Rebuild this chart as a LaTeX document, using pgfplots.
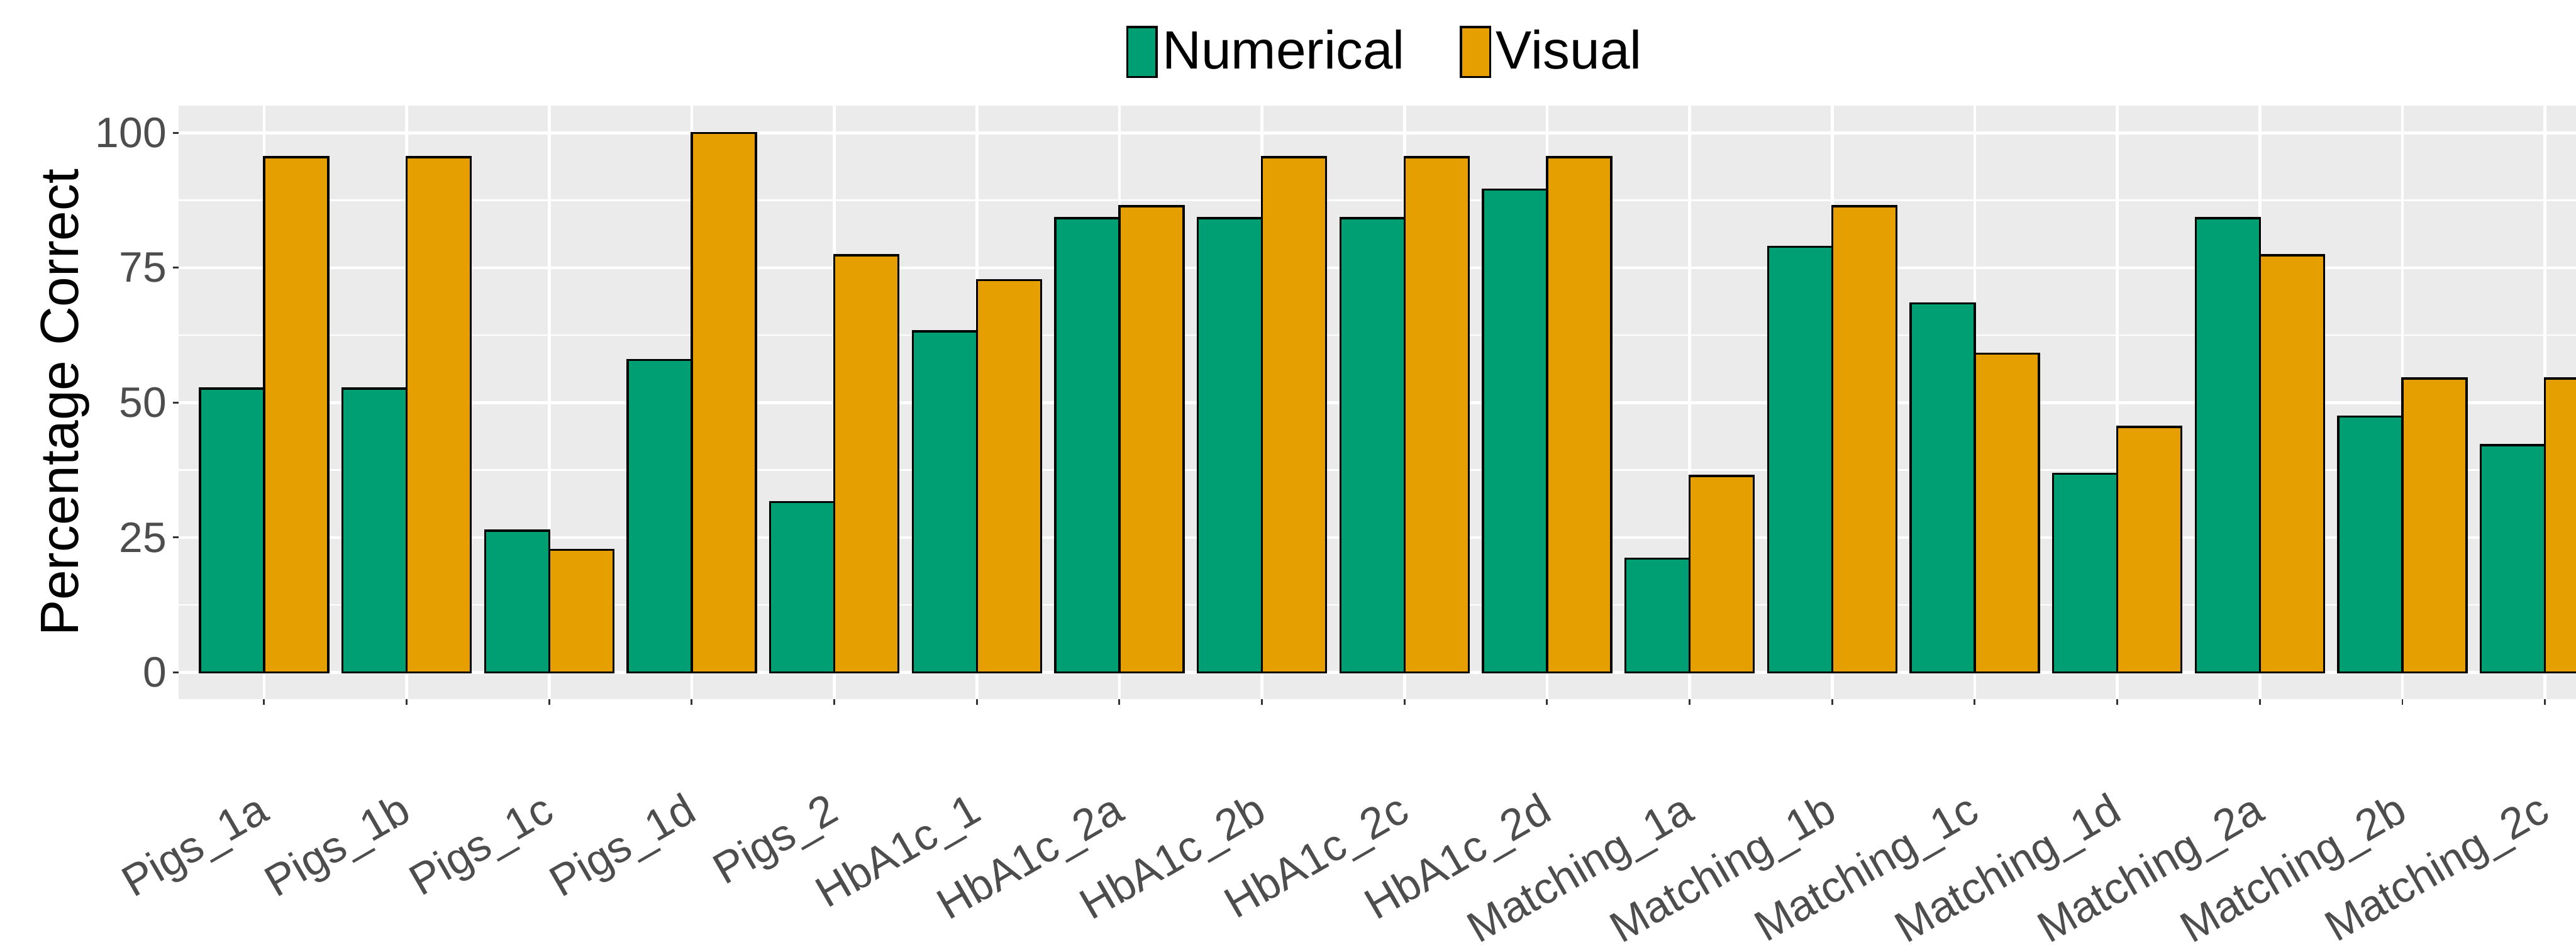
\documentclass[border=0pt]{standalone}
\usepackage{pgfplots}
\pgfplotsset{compat=1.18}
\usepackage{pgfplotstable}
\usepackage{fontspec}
\setmainfont{Liberation Sans}
\definecolor{numc}{HTML}{009E73}
\definecolor{visc}{HTML}{E69F00}
\definecolor{panelbg}{HTML}{EBEBEB}
\definecolor{tickc}{HTML}{333333}
\definecolor{labc}{HTML}{4D4D4D}

\pgfplotstableread{
x N V
1 52.6 95.5
2 52.6 95.5
3 26.3 22.7
4 57.9 100
5 31.6 77.3
6 63.2 72.7
7 84.2 86.4
8 84.2 95.5
9 84.2 95.5
10 89.5 95.5
11 21.1 36.4
12 78.9 86.4
13 68.4 59.1
14 36.8 45.5
15 84.2 77.3
16 47.4 54.5
17 42.1 54.5
}\datatable

\begin{document}
\begin{tikzpicture}
\useasboundingbox (0,0) rectangle (822.2pt,301.6pt);
\begin{axis}[
  at={(57pt,78.3pt)}, anchor=south west,
  scale only axis,
  width=765.3pt, height=189.5pt,
  xmin=0.4, xmax=17.22,
  ymin=-5, ymax=105,
  axis background/.style={fill=panelbg},
  axis line style={draw=none},
  xtick={1,...,17},
  xticklabels={Pigs\_1a,Pigs\_1b,Pigs\_1c,Pigs\_1d,Pigs\_2,HbA1c\_1,HbA1c\_2a,HbA1c\_2b,HbA1c\_2c,HbA1c\_2d,Matching\_1a,Matching\_1b,Matching\_1c,Matching\_1d,Matching\_2a,Matching\_2b,Matching\_2c},
  ytick={0,25,50,75,100},
  minor ytick={12.5,37.5,62.5,87.5},
  grid=both,
  major grid style={white, line width=0.9pt},
  minor grid style={white, line width=0.5pt},
  tick align=outside,
  major tick length=1.8pt,
  minor tick length=0pt,
  tick style={tickc, line width=0.6pt},
  xtick pos=bottom, ytick pos=left,
  /pgf/number format/assume math mode=true,
  yticklabel style={font=\fontsize{13.6}{15}\selectfont, text=labc, anchor=east, inner sep=0pt, xshift=-1.8pt},
  xticklabel style={font=\fontsize{14}{15}\selectfont, text=labc, anchor=north east, inner sep=0pt, xshift=-2.8pt, yshift=-27.2pt, rotate=30},
  ylabel={Percentage Correct},
  ylabel style={font=\fontsize{17.2}{20}\selectfont, at={(axis description cs:0,0.5)}, anchor=center, yshift=36.2pt, inner sep=0pt},
  ybar, bar width=0.45,
  legend columns=2,
  legend image code/.code={\draw[#1, line width=0.7pt] (0pt,-8pt) rectangle (9.4pt,8pt);},
  legend style={at={(0.3949,1.0908)}, anchor=west, draw=none, fill=none, inner sep=0pt,
     font=\fontsize{17.2}{20}\selectfont,
     nodes={inner xsep=1.5pt, inner ysep=0pt},
     /tikz/every even column/.append style={column sep=16pt}},
]
\addplot[ybar, bar shift=-0.225, fill=numc, draw=black, line width=0.7pt] table[x=x, y=N] {\datatable};
\addplot[ybar, bar shift=0.225, fill=visc, draw=black, line width=0.7pt] table[x=x, y=V] {\datatable};
\legend{Numerical, Visual}
\end{axis}
\end{tikzpicture}
\end{document}
